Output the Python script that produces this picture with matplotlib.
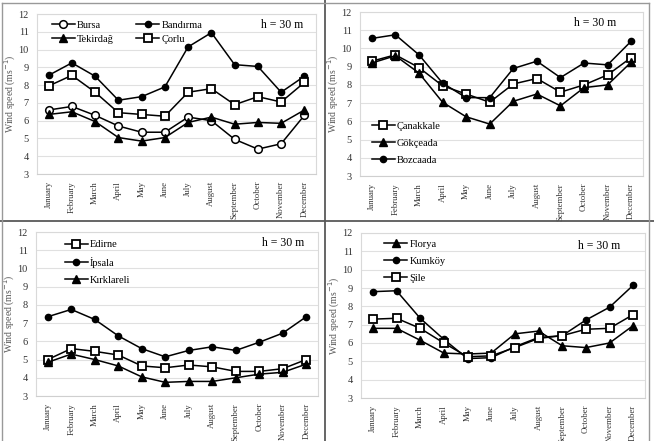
import matplotlib
matplotlib.use("Agg")
import matplotlib.pyplot as plt
from matplotlib.lines import Line2D

plt.rcParams['font.family'] = ['Liberation Serif', 'DejaVu Serif']

months = ["January", "February", "March", "April", "May", "June", "July",
          "August", "September", "October", "November", "December"]

# Panel 1
bursa = [6.6, 6.8, 6.3, 5.7, 5.35, 5.35, 6.2, 6.0, 4.95, 4.4, 4.7, 6.3]
bandirma = [8.55, 9.25, 8.5, 7.15, 7.35, 7.9, 10.15, 10.95, 9.15, 9.05, 7.6, 8.5]
tekirdag = [6.35, 6.5, 5.95, 5.05, 4.85, 5.05, 5.9, 6.2, 5.8, 5.9, 5.85, 6.6]
corlu = [7.95, 8.55, 7.6, 6.45, 6.35, 6.25, 7.6, 7.8, 6.9, 7.35, 7.05, 8.15]
# Panel 2
canakkale = [9.3, 9.65, 8.95, 7.95, 7.5, 7.05, 8.05, 8.35, 7.6, 8.0, 8.55, 9.5]
gokceada = [9.2, 9.6, 8.65, 7.05, 6.25, 5.85, 7.1, 7.5, 6.85, 7.85, 8.0, 9.25]
bozcaada = [10.55, 10.75, 9.65, 8.1, 7.3, 7.3, 8.9, 9.3, 8.4, 9.2, 9.1, 10.4]
# Panel 3
edirne = [5.0, 5.6, 5.45, 5.25, 4.65, 4.55, 4.7, 4.6, 4.35, 4.35, 4.5, 5.0]
ipsala = [7.35, 7.75, 7.2, 6.3, 5.6, 5.15, 5.5, 5.7, 5.5, 5.95, 6.45, 7.35]
kirklareli = [4.85, 5.3, 5.0, 4.65, 4.05, 3.75, 3.8, 3.8, 4.0, 4.2, 4.3, 4.75]
# Panel 4
florya = [6.8, 6.8, 6.15, 5.45, 5.4, 5.45, 6.5, 6.65, 5.85, 5.75, 6.0, 6.95]
kumkoy = [8.8, 8.85, 7.35, 6.2, 5.15, 5.2, 5.8, 6.3, 6.4, 7.25, 7.95, 9.15]
sile = [7.3, 7.35, 6.8, 6.0, 5.25, 5.3, 5.75, 6.25, 6.4, 6.75, 6.8, 7.55]

height_label = "h = 30 m"
ylabel = "Wind speed (ms$^{-1}$)"

W, H = 654, 441
fig = plt.figure(figsize=(W / 100, H / 100), dpi=100)

STY = {
    'open_circle': dict(marker='o', markersize=5.5, markerfacecolor='white', markeredgewidth=1.1),
    'dot': dict(marker='o', markersize=4.5, markerfacecolor='black'),
    'tri': dict(marker='^', markersize=5.5, markerfacecolor='black'),
    'square': dict(marker='s', markersize=6, markerfacecolor='white', markeredgewidth=1.3),
}


def make_ax(l, r, t, b):
    ax = fig.add_axes([l / W, 1 - b / H, (r - l) / W, (b - t) / H])
    ax.set_xlim(-0.5, 11.5)
    ax.set_ylim(3, 12)
    ax.set_yticks(range(3, 13))
    ax.set_xticks(range(12))
    ax.set_xticklabels(months, rotation=90, fontsize=6.3, color='#333333')
    ax.tick_params(axis='y', labelsize=7.5, colors='#333333', length=0, pad=6)
    ax.tick_params(axis='x', length=0, pad=5)
    ax.grid(axis='y', color='#e0e0e0', lw=0.8)
    ax.set_axisbelow(True)
    for s in ax.spines.values():
        s.set_color('#d9d9d9')
        s.set_linewidth(0.8)
    ax.spines['bottom'].set_color('#cfcfcf')
    ax.set_ylabel(ylabel, fontsize=7, color='#595959')
    ax.yaxis.set_label_coords(-19 / (r - l), 0.5)
    return ax


def plot_series(ax, series):
    x = list(range(12))
    for name, vals, st in series:
        ax.plot(x, vals, color='black', lw=1.1, label=name, **STY[st])


# Panel 1
ax1 = make_ax(37, 316, 14, 174)
plot_series(ax1, [("Bursa", bursa, 'open_circle'), ("Tekirdağ", tekirdag, 'tri'),
                  ("Bandırma", bandirma, 'dot'), ("Çorlu", corlu, 'square')])
ax1.legend(ncol=2, loc='upper left', bbox_to_anchor=(0.03, 1.0), frameon=False,
           fontsize=7.5, handlelength=2.2, handletextpad=0.2, columnspacing=2.2,
           labelspacing=0.45, borderaxespad=0.2)
ax1.text(0.88, 0.93, height_label, transform=ax1.transAxes, ha='center', va='center', fontsize=8.5)

# Panel 2
ax2 = make_ax(360, 643, 12, 176)
plot_series(ax2, [("Çanakkale", canakkale, 'square'), ("Gökçeada", gokceada, 'tri'),
                  ("Bozcaada", bozcaada, 'dot')])
ax2.legend(loc='upper left', bbox_to_anchor=(0.02, 0.37), frameon=False,
           fontsize=7.5, handlelength=2.2, handletextpad=0.2, labelspacing=0.75,
           borderaxespad=0.2)
ax2.text(0.83, 0.93, height_label, transform=ax2.transAxes, ha='center', va='center', fontsize=8.5)

# Panel 3
ax3 = make_ax(36, 318, 232, 396)
plot_series(ax3, [("Edirne", edirne, 'square'), ("İpsala", ipsala, 'dot'),
                  ("Kırklareli", kirklareli, 'tri')])
ax3.legend(loc='upper left', bbox_to_anchor=(0.08, 0.99), frameon=False,
           fontsize=7.5, handlelength=2.2, handletextpad=0.2, labelspacing=0.75,
           borderaxespad=0.2)
ax3.text(0.876, 0.93, height_label, transform=ax3.transAxes, ha='center', va='center', fontsize=8.5)

# Panel 4
ax4 = make_ax(361, 645, 233, 398)
plot_series(ax4, [("Florya", florya, 'tri'), ("Kumköy", kumkoy, 'dot'),
                  ("Şile", sile, 'square')])
ax4.legend(loc='upper left', bbox_to_anchor=(0.06, 1.0), frameon=False,
           fontsize=7.5, handlelength=2.2, handletextpad=0.2, labelspacing=0.75,
           borderaxespad=0.2)
ax4.text(0.84, 0.92, height_label, transform=ax4.transAxes, ha='center', va='center', fontsize=8.5)

# Panel frames
lc = '#595959'
fig.add_artist(Line2D([324.5 / W, 324.5 / W], [0, 1], color=lc, lw=1.3))
fig.add_artist(Line2D([0, 1], [1 - 220.5 / H, 1 - 220.5 / H], color=lc, lw=1.3))
fig.add_artist(Line2D([2 / W, 649 / W], [1 - 2.5 / H, 1 - 2.5 / H], color='#999999', lw=1.0))
fig.add_artist(Line2D([1.5 / W, 1.5 / W], [0, 1 - 2.5 / H], color='#999999', lw=1.0))
fig.add_artist(Line2D([649 / W, 649 / W], [0, 1 - 2.5 / H], color='#999999', lw=1.0))

fig.savefig("out.png", dpi=100)
